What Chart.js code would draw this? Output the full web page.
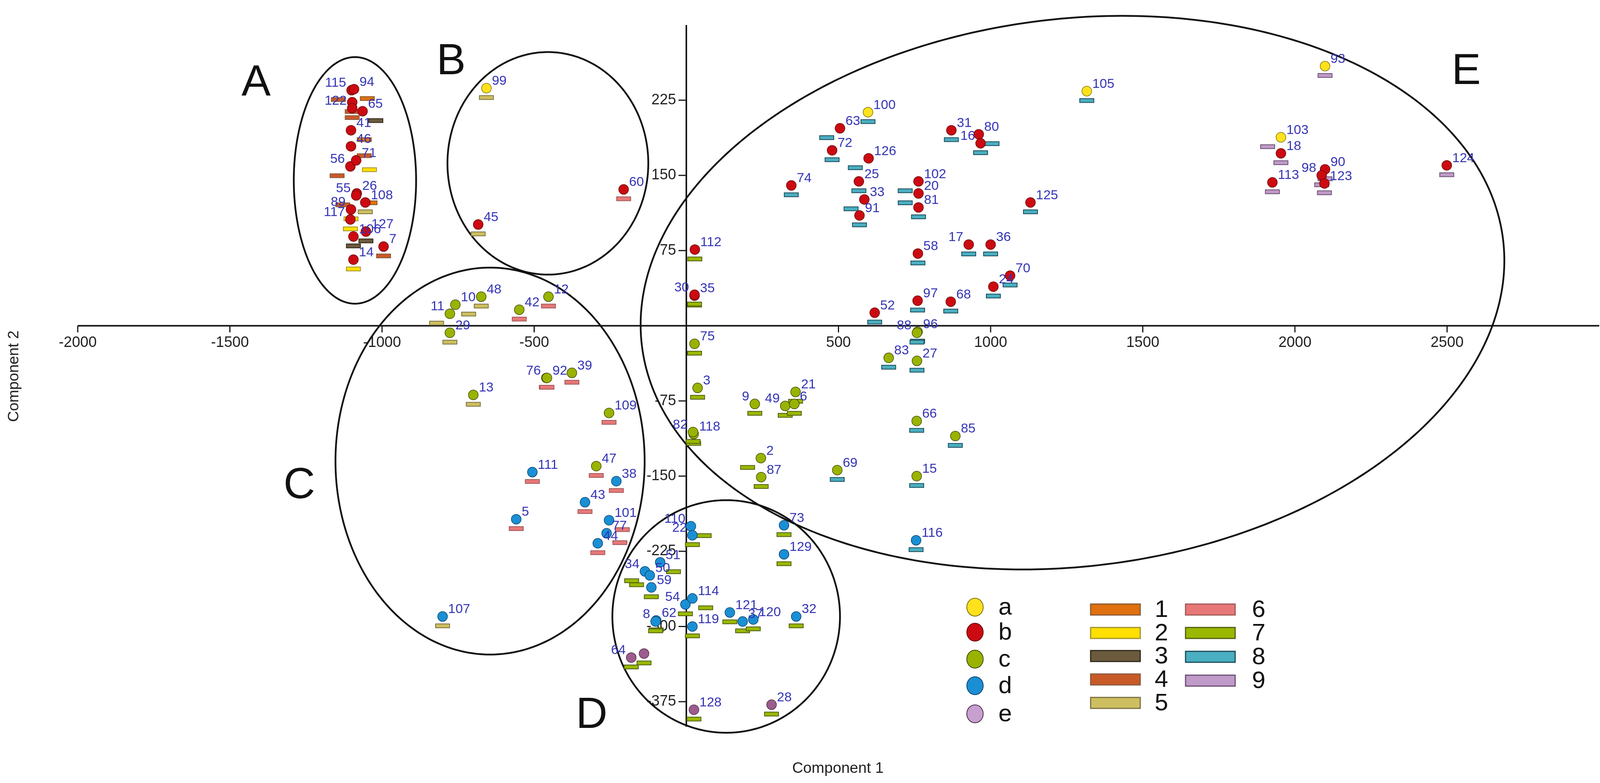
<!DOCTYPE html>
<html>
<head>
<meta charset="utf-8">
<script src="https://cdn.jsdelivr.net/npm/chart.js@4.4.1/dist/chart.umd.min.js"></script>
<style>
  html, body { margin: 0; padding: 0; background: #fff; }
</style>
</head>
<body>
<canvas id="pcaChart" width="4121" height="2004"></canvas>
<script>
// sample numbers, in the order of the clusters A, B, C, D, E
const ids = [
    '115', '94', '', '122', '65', '41', '46', '56', '71', '26', '55', '108', '89', '117', '127', '106', '7', '14',
    '99', '60', '45',
    '11', '10', '48', '42', '12', '29', '76', '92', '39', '13', '109', '111', '47', '38', '43', '5', '101', '77', '44', '107',
    '34', '50', '59', '51', '54', '114', '110', '22', '73', '129', '62', '8', '119', '121', '37', '120', '32', '128', '28', '64', '',
    '100', '63', '72', '126', '74', '25', '33', '91', '102', '20', '81', '31', '80', '16', '112', '35', '30', '17', '36', '58',
    '70', '24', '97', '68', '52', '125', '96', '88', '83', '27', '75', '3', '9', '49', '21', '6', '118', '82', '2', '87',
    '69', '66', '85', '15', '116', '105', '93', '103', '18', '90', '98', '123', '113', '124'
];

// Component 1 scores
const comp1 = [
    -1100, -1092, -1098, -1098, -1064, -1102, -1102, -1104, -1085, -1083, -1085, -1055, -1102, -1104, -1053, -1094, -995, -1094,
    -657, -206, -684,
    -777, -759, -674, -549, -453, -777, -460, -458, -376, -700, -254, -506, -296, -230, -333, -559, -254, -262, -291, -801,
    -136, -120, -115, -86, -3, 20, 15, 20, 321, 321, -99, -101, 20, 143, 185, 220, 361, 25, 280, -181, -139,
    597, 505, 479, 599, 345, 567, 585, 569, 763, 763, 763, 871, 961, 967, 28, 27, 27, 928, 1000, 761,
    1064, 1009, 760, 869, 619, 1131, 760, 758, 665, 758, 27, 37, 225, 325, 359, 355, 24, 22, 245, 246,
    496, 757, 884, 757, 755, 1316, 2099, 1954, 1954, 2099, 2088, 2097, 1926, 2499
];

// Component 2 scores
const comp2 = [
    235, 236, 223, 217, 214, 195, 179, 159, 165, 132, 130, 123, 116, 106, 94, 89, 79, 66,
    237, 136, 101,
    12, 21, 29, 16, 29, -7, -52, -52, -47, -69, -87, -146, -140, -155, -176, -193, -194, -207, -217, -290,
    -245, -249, -261, -236, -278, -272, -200, -209, -199, -228, -294, -295, -300, -286, -295, -293, -290, -383, -378, -331, -327,
    213, 197, 175, 167, 140, 144, 126, 110, 144, 132, 118, 195, 191, 182, 76, 30, 31, 81, 81, 72,
    50, 39, 25, 24, 13, 123, -6, -7, -32, -35, -18, -62, -78, -80, -66, -78, -108, -106, -132, -151,
    -144, -95, -110, -150, -214, 234, 259, 188, 172, 156, 150, 142, 143, 160
];

// circle symbol (a-e)
const groups = [
    'b', 'b', 'b', 'b', 'b', 'b', 'b', 'b', 'b', 'b', 'b', 'b', 'b', 'b', 'b', 'b', 'b', 'b',
    'a', 'b', 'b',
    'c', 'c', 'c', 'c', 'c', 'c', 'c', 'c', 'c', 'c', 'c', 'd', 'c', 'd', 'd', 'd', 'd', 'd', 'd', 'd',
    'd', 'd', 'd', 'd', 'd', 'd', 'd', 'd', 'd', 'd', 'd', 'd', 'd', 'd', 'd', 'd', 'd', 'e', 'e', 'e', 'e',
    'a', 'b', 'b', 'b', 'b', 'b', 'b', 'b', 'b', 'b', 'b', 'b', 'b', 'b', 'b', 'b', 'b', 'b', 'b', 'b',
    'b', 'b', 'b', 'b', 'b', 'b', 'c', 'c', 'c', 'c', 'c', 'c', 'c', 'c', 'c', 'c', 'c', 'c', 'c', 'c',
    'c', 'c', 'c', 'c', 'd', 'a', 'a', 'a', 'b', 'b', 'b', 'b', 'b', 'b'
];

// bar symbol (1-9)
const classes = [
    4, 1, 4, 4, 3, 1, 4, 4, 2, 1, 4, 5, 2, 2, 3, 3, 4, 2,
    5, 6, 5,
    5, 5, 5, 6, 6, 5, 6, 6, 6, 5, 6, 6, 6, 6, 6, 6, 6, 6, 6, 5,
    7, 7, 7, 7, 7, 7, 7, 7, 7, 7, 7, 7, 7, 7, 7, 7, 7, 7, 7, 7, 7,
    8, 8, 8, 8, 8, 8, 8, 8, 8, 8, 8, 8, 8, 8, 7, 7, 7, 8, 8, 8,
    8, 8, 8, 8, 8, 8, 8, 8, 8, 8, 7, 7, 7, 7, 7, 7, 7, 7, 7, 7,
    8, 8, 8, 8, 8, 8, 9, 9, 9, 9, 9, 9, 9, 9
];

const xTicks = [-2000, -1500, -1000, -500, 500, 1000, 1500, 2000, 2500];
const yTicks = [225, 150, 75, -75, -150, -225, -300, -375];

// cluster outlines: centre and two half-axis vectors, in score units
const clusterNames = ['A', 'B', 'C', 'D', 'E'];
const ellipseCx = [-1089, -455, -645, 131, 1269];
const ellipseCy = [145, 162, -135, -290, 33];
const ellipseUx = [201, 330, 508, 374, 1415];
const ellipseUy = [0, 0, 0, 0, 53];
const ellipseVx = [0, 0, 0, 0, -109];
const ellipseVy = [123, 111, 193, 116, 271];
const letterX = [-1414, -773, -1272, -311, 2563];
const letterY = [242, 263, -160, -389, 253];

// labels written on the left side, and bars shifted sideways
const leftLabels = ['115', '122', '56', '55', '89', '117', '11', '76', '34', '54', '110', '22', '8', '64', '16', '30', '17', '88', '9', '49', '82', '98'];
const barLeft = ['115', '56', '55', '11', '34', '50', '63', '126', '33', '102', '20', '2', '103'];
const barRight = ['94', '65', '41', '46', '71', '26', '10', '101', '77', '51', '114', '110', '80'];

const groupNames = ['a', 'b', 'c', 'd', 'e'];
const groupFill = { a: '#ffe21c', b: '#cc0a12', c: '#9ab300', d: '#1a8fd4', e: '#9c5c8e' };
const groupEdge = { a: '#7d6e10', b: '#6a0a0a', c: '#3f4a05', d: '#0c4470', e: '#4e2c48' };
const legendFill = { a: '#ffe21c', b: '#cc0a12', c: '#9ab300', d: '#1a8fd4', e: '#c8a0d0' };
const classFill = { 1: '#e07010', 2: '#ffe000', 3: '#6b5a3e', 4: '#c85a28', 5: '#cdbf60', 6: '#e87878', 7: '#9ab800', 8: '#4aafc0', 9: '#c09ac8' };
const classEdge = { 1: '#8a5a30', 2: '#a09030', 3: '#2e2618', 4: '#8a5a40', 5: '#7a7040', 6: '#a05858', 7: '#4e5e10', 8: '#1a4a5a', 9: '#6a5070' };

const FONT = '"Liberation Sans", Arial, sans-serif';

const datasets = groupNames.map(function (g) {
    const pts = [];
    ids.forEach(function (id, i) {
        if (groups[i] === g) {
            pts.push({ x: comp1[i], y: comp2[i], id: id, cls: classes[i] });
        }
    });
    return {
        label: g,
        data: pts,
        pointRadius: 12.5,
        pointHoverRadius: 12.5,
        pointBackgroundColor: groupFill[g],
        pointBorderColor: groupEdge[g],
        pointBorderWidth: 1.5,
        showLine: false
    };
});

function eachPoint(chart, fn) {
    chart.data.datasets.forEach(function (ds, di) {
        const meta = chart.getDatasetMeta(di);
        ds.data.forEach(function (p, j) {
            const el = meta.data[j];
            fn(p, el.x, el.y);
        });
    });
}

const pcaOverlay = {
    id: 'pcaOverlay',
    beforeDatasetsDraw(chart) {
        const ctx = chart.ctx;
        const xs = chart.scales.x;
        const ys = chart.scales.y;
        const x0 = xs.getPixelForValue(0);
        const y0 = ys.getPixelForValue(0);
        ctx.save();

        // axes through the origin
        ctx.strokeStyle = '#151515';
        ctx.lineWidth = 4;
        ctx.beginPath();
        ctx.moveTo(xs.getPixelForValue(xs.min), y0);
        ctx.lineTo(xs.getPixelForValue(xs.max), y0);
        ctx.moveTo(x0, ys.getPixelForValue(ys.min));
        ctx.lineTo(x0, ys.getPixelForValue(ys.max));
        ctx.stroke();

        ctx.lineWidth = 3;
        ctx.fillStyle = '#222';
        ctx.font = '38px ' + FONT;
        ctx.textAlign = 'center';
        ctx.textBaseline = 'middle';
        xTicks.forEach(function (v) {
            const px = xs.getPixelForValue(v);
            ctx.beginPath();
            ctx.moveTo(px, y0);
            ctx.lineTo(px, y0 + 17);
            ctx.stroke();
            ctx.fillText(String(v), px, y0 + 44);
        });
        ctx.textAlign = 'right';
        yTicks.forEach(function (v) {
            const py = ys.getPixelForValue(v);
            ctx.beginPath();
            ctx.moveTo(x0, py);
            ctx.lineTo(x0 - 20, py);
            ctx.stroke();
            ctx.fillText(String(v), x0 - 26, py);
        });

        // cluster ellipses
        ctx.strokeStyle = '#111';
        ctx.lineWidth = 4.5;
        clusterNames.forEach(function (name, k) {
            ctx.beginPath();
            for (let s = 0; s <= 360; s++) {
                const t = s * Math.PI / 180;
                const vx = ellipseCx[k] + ellipseUx[k] * Math.cos(t) + ellipseVx[k] * Math.sin(t);
                const vy = ellipseCy[k] + ellipseUy[k] * Math.cos(t) + ellipseVy[k] * Math.sin(t);
                const px = xs.getPixelForValue(vx);
                const py = ys.getPixelForValue(vy);
                if (s === 0) ctx.moveTo(px, py); else ctx.lineTo(px, py);
            }
            ctx.closePath();
            ctx.stroke();
        });

        // class bars under each circle
        ctx.lineWidth = 2;
        eachPoint(chart, function (p, px, py) {
            let shift = 0;
            if (barLeft.indexOf(p.id) >= 0) shift = -34;
            if (barRight.indexOf(p.id) >= 0) shift = 34;
            ctx.fillStyle = classFill[p.cls];
            ctx.strokeStyle = classEdge[p.cls];
            ctx.fillRect(px + shift - 18, py + 19, 36, 10);
            ctx.strokeRect(px + shift - 18, py + 19, 36, 10);
        });
        ctx.restore();
    },
    afterDatasetsDraw(chart) {
        const ctx = chart.ctx;
        const xs = chart.scales.x;
        const ys = chart.scales.y;
        ctx.save();

        // sample numbers
        ctx.fillStyle = '#3434b6';
        ctx.font = '34px ' + FONT;
        ctx.textBaseline = 'middle';
        eachPoint(chart, function (p, px, py) {
            if (!p.id) return;
            if (leftLabels.indexOf(p.id) >= 0) {
                ctx.textAlign = 'right';
                ctx.fillText(p.id, px - 14, py - 18);
            } else {
                ctx.textAlign = 'left';
                ctx.fillText(p.id, px + 14, py - 18);
            }
        });

        // cluster letters
        ctx.fillStyle = '#111';
        ctx.font = '112px ' + FONT;
        ctx.textAlign = 'center';
        clusterNames.forEach(function (name, k) {
            ctx.fillText(name, xs.getPixelForValue(letterX[k]), ys.getPixelForValue(letterY[k]));
        });

        // axis titles
        ctx.font = '39px ' + FONT;
        ctx.fillStyle = '#222';
        ctx.fillText('Component 1', 2145, 1967);
        ctx.save();
        ctx.translate(36, 963);
        ctx.rotate(-Math.PI / 2);
        ctx.fillText('Component 2', 0, 0);
        ctx.restore();

        // legend
        const circleY = [1554, 1618, 1687, 1755, 1827];
        ctx.font = '62px ' + FONT;
        ctx.textAlign = 'left';
        groupNames.forEach(function (g, k) {
            ctx.beginPath();
            ctx.ellipse(2496, circleY[k], 21, 23, 0, 0, Math.PI * 2);
            ctx.fillStyle = legendFill[g];
            ctx.fill();
            ctx.lineWidth = 2;
            ctx.strokeStyle = groupEdge[g];
            ctx.stroke();
            ctx.fillStyle = '#111';
            ctx.fillText(g, 2556, circleY[k] + 2);
        });
        const barY = [1560, 1620, 1679, 1739, 1799, 1560, 1620, 1681, 1742];
        for (let c = 1; c <= 9; c++) {
            const bx = c <= 5 ? 2792 : 3035;
            const tx = c <= 5 ? 2956 : 3205;
            const by = barY[c - 1];
            ctx.fillStyle = classFill[c];
            ctx.strokeStyle = classEdge[c];
            ctx.lineWidth = 3;
            ctx.fillRect(bx, by - 14, 127, 28);
            ctx.strokeRect(bx, by - 14, 127, 28);
            ctx.fillStyle = '#111';
            ctx.fillText(String(c), tx, by + 2);
        }
        ctx.restore();
    }
};

new Chart(document.getElementById('pcaChart'), {
    type: 'scatter',
    data: { datasets: datasets },
    options: {
        responsive: false,
        devicePixelRatio: 1,
        animation: false,
        events: [],
        layout: { padding: { left: 199, right: 27, top: 64, bottom: 144 } },
        scales: {
            x: { type: 'linear', min: -2000, max: 3000, display: false },
            y: { type: 'linear', min: -400, max: 300, display: false }
        },
        plugins: {
            legend: { display: false },
            tooltip: { enabled: false }
        }
    },
    plugins: [pcaOverlay]
});
</script>
</body>
</html>
